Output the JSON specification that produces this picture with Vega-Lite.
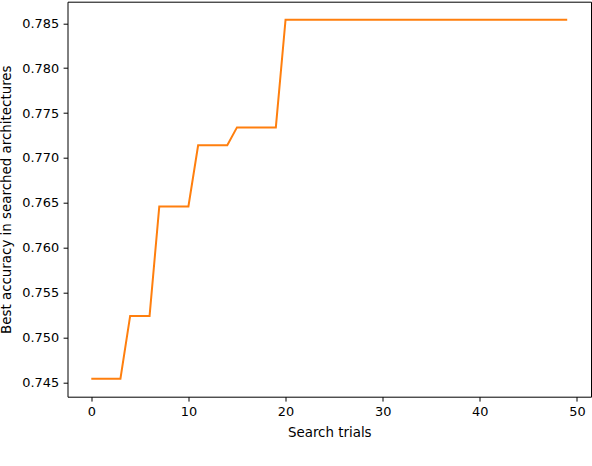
{
  "$schema": "https://vega.github.io/schema/vega-lite/v6.json",
  "width": 523.5,
  "height": 395,
  "autosize": "none",
  "padding": {"left": 67.5, "top": 1.7, "right": 1, "bottom": 69.3},
  "background": "white",
  "config": {
    "view": {"stroke": "#000", "strokeWidth": 1},
    "axis": {
      "labelFont": "DejaVu Sans", "titleFont": "DejaVu Sans",
      "labelFontSize": 12.9, "titleFontSize": 13.4,
      "labelColor": "#000", "titleColor": "#000",
      "titleFontWeight": "normal",
      "domain": false, "grid": false,
      "tickColor": "#000", "tickSize": 4.4, "tickWidth": 1,
      "labelPadding": 4.5
    }
  },
  "data": {"values": [
    {"trial": 0, "acc": 0.7454}, {"trial": 1, "acc": 0.7454}, {"trial": 2, "acc": 0.7454}, {"trial": 3, "acc": 0.7454},
    {"trial": 4, "acc": 0.7524}, {"trial": 5, "acc": 0.7524}, {"trial": 6, "acc": 0.7524},
    {"trial": 7, "acc": 0.7646}, {"trial": 8, "acc": 0.7646}, {"trial": 9, "acc": 0.7646}, {"trial": 10, "acc": 0.7646},
    {"trial": 11, "acc": 0.7714}, {"trial": 12, "acc": 0.7714}, {"trial": 13, "acc": 0.7714}, {"trial": 14, "acc": 0.7714},
    {"trial": 15, "acc": 0.7734}, {"trial": 16, "acc": 0.7734}, {"trial": 17, "acc": 0.7734}, {"trial": 18, "acc": 0.7734}, {"trial": 19, "acc": 0.7734},
    {"trial": 20, "acc": 0.7854}, {"trial": 21, "acc": 0.7854}, {"trial": 22, "acc": 0.7854}, {"trial": 23, "acc": 0.7854}, {"trial": 24, "acc": 0.7854},
    {"trial": 25, "acc": 0.7854}, {"trial": 26, "acc": 0.7854}, {"trial": 27, "acc": 0.7854}, {"trial": 28, "acc": 0.7854}, {"trial": 29, "acc": 0.7854},
    {"trial": 30, "acc": 0.7854}, {"trial": 31, "acc": 0.7854}, {"trial": 32, "acc": 0.7854}, {"trial": 33, "acc": 0.7854}, {"trial": 34, "acc": 0.7854},
    {"trial": 35, "acc": 0.7854}, {"trial": 36, "acc": 0.7854}, {"trial": 37, "acc": 0.7854}, {"trial": 38, "acc": 0.7854}, {"trial": 39, "acc": 0.7854},
    {"trial": 40, "acc": 0.7854}, {"trial": 41, "acc": 0.7854}, {"trial": 42, "acc": 0.7854}, {"trial": 43, "acc": 0.7854}, {"trial": 44, "acc": 0.7854},
    {"trial": 45, "acc": 0.7854}, {"trial": 46, "acc": 0.7854}, {"trial": 47, "acc": 0.7854}, {"trial": 48, "acc": 0.7854}, {"trial": 49, "acc": 0.7854}
  ]},
  "mark": {"type": "line", "color": "#ff7f0e", "strokeWidth": 2, "clip": true},
  "encoding": {
    "x": {
      "field": "trial", "type": "quantitative",
      "scale": {"domain": [-2.45, 51.45], "nice": false, "zero": false},
      "axis": {"values": [0, 10, 20, 30, 40, 50], "format": "d", "title": "Search trials", "titlePadding": 7}
    },
    "y": {
      "field": "acc", "type": "quantitative",
      "scale": {"domain": [0.7434, 0.7874], "nice": false, "zero": false},
      "axis": {"values": [0.745, 0.75, 0.755, 0.76, 0.765, 0.77, 0.775, 0.78, 0.785], "format": ".3f", "title": "Best accuracy in searched architectures", "titlePadding": 8}
    }
  }
}
